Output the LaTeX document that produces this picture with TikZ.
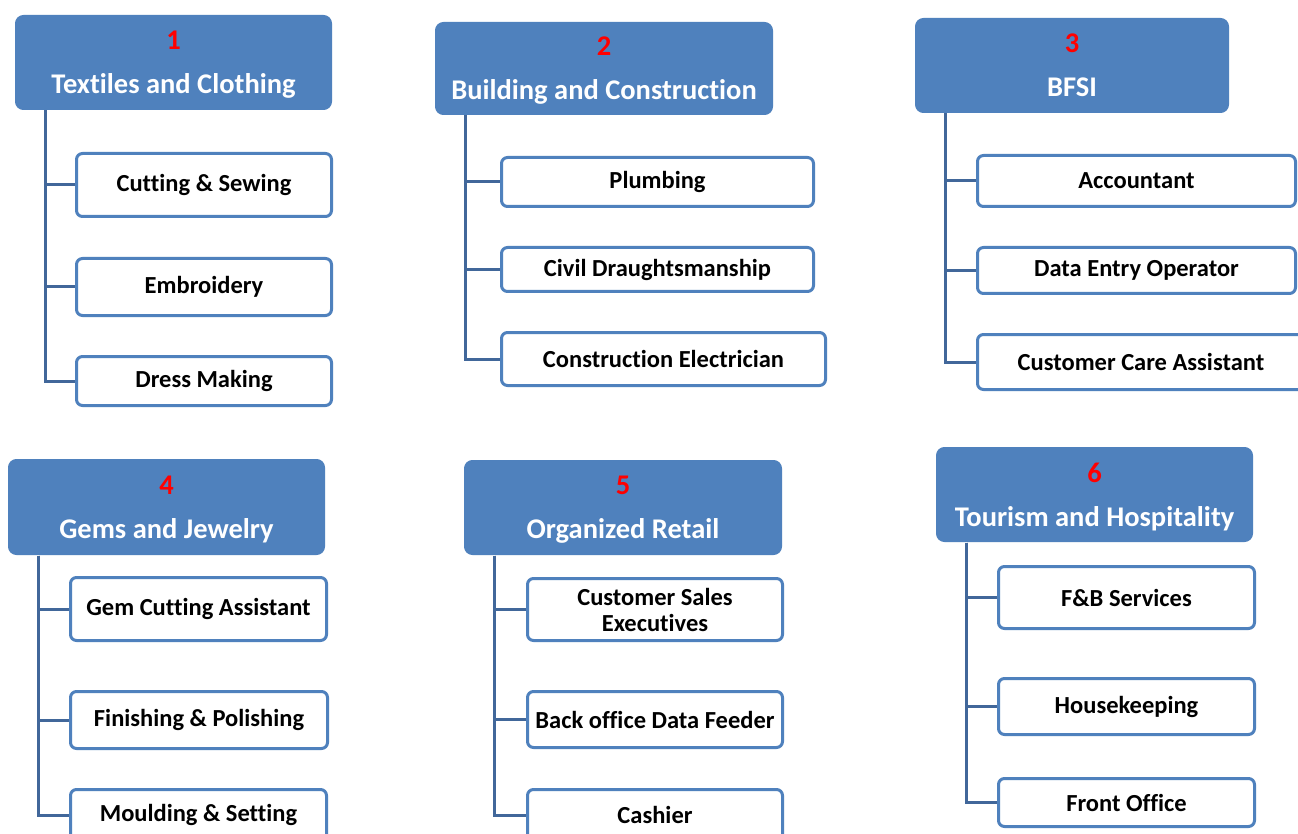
\documentclass[tikz,border=0pt]{standalone}
\usepackage{fontspec}
\setmainfont{Carlito}[Ligatures=NoCommon]
\definecolor{hblue}{HTML}{4F81BD}
\definecolor{lblue}{HTML}{41679A}
\definecolor{numred}{HTML}{FF0000}
\tikzset{
  head/.style={draw=hblue, fill=hblue, rounded corners=8pt, line width=1pt,
    text=white, align=center, inner sep=0pt,
    font=\bfseries\fontsize{28.5}{44}\selectfont},
  child/.style={draw=hblue, fill=white, rounded corners=6pt, line width=3pt,
    align=center, inner sep=0pt, text=black,
    font=\bfseries\fontsize{24.5}{26}\selectfont},
  conn/.style={draw=lblue, line width=3pt}
}
\newcommand\mkhead[7]{%
  \node[head, minimum width={#4-#2-1}, minimum height={#5-#3-1}] (#1)
    at ({(#2+#4)/2},{(#3+#5)/2}) {\textcolor{numred}{#6}\\\smash{#7}};}
\newcommand\mkchild[6]{%
  \node[child, minimum width={#4-#2-3}, minimum height={#5-#3-3}] (#1)
    at ({(#2+#4)/2},{(#3+#5)/2}) {#6};}
\begin{document}
\begin{tikzpicture}[x=1pt,y=-1pt]
  \useasboundingbox (0,0) rectangle (1298,834);
  \clip (0,0) rectangle (1298,834);
  \fill[white] (0,0) rectangle (1298,834);

  % group 1
  \mkhead{h1}{15}{15}{332}{110}{1}{Textiles and Clothing}
  \mkchild{c11}{75}{152}{333}{218}{Cutting \& Sewing}
  \mkchild{c12}{75}{257}{333}{317}{Embroidery}
  \mkchild{c13}{75}{355}{333}{407}{Dress Making}

  % group 2
  \mkhead{h2}{435}{22}{773}{115}{2}{Building and Construction}
  \mkchild{c21}{500}{156}{815}{208}{Plumbing}
  \mkchild{c22}{500}{246}{815}{293}{Civil Draughtsmanship}
  \mkchild{c23}{500}{331}{827}{387}{Construction Electrician}

  % group 3
  \mkhead{h3}{915}{18}{1229}{113}{3}{BFSI}
  \mkchild{c31}{976}{154}{1297}{208}{Accountant}
  \mkchild{c32}{976}{246}{1297}{295}{Data Entry Operator}
  \mkchild{c33}{976}{333}{1306}{391}{Customer Care Assistant}

  % group 4
  \mkhead{h4}{8}{459}{325}{555}{4}{Gems and Jewelry}
  \mkchild{c41}{69}{576}{328}{642}{Gem Cutting Assistant}
  \mkchild{c42}{69}{690}{329}{750}{Finishing \& Polishing}
  \mkchild{c43}{69}{788}{328}{842}{Moulding \& Setting}

  % group 5
  \mkhead{h5}{464}{460}{782}{555}{5}{Organized Retail}
  \mkchild{c51}{526}{577}{784}{642}{Customer Sales\\Executives}
  \mkchild{c52}{526}{690}{784}{749}{Back office Data Feeder}
  \mkchild{c53}{526}{788}{784}{842}{Cashier}

  % group 6
  \mkhead{h6}{936}{447}{1253}{542}{6}{Tourism and Hospitality}
  \mkchild{c61}{997}{565}{1256}{630}{F\&B Services}
  \mkchild{c62}{997}{677}{1256}{736}{Housekeeping}
  \mkchild{c63}{997}{777}{1256}{828}{Front Office}

  % connectors
  \foreach \g in {1,...,6}{
    \foreach \c in {1,2,3}{
      \draw[conn] ([xshift=30pt,yshift=-0.5pt]h\g.south west) |- (c\g\c.west);
    }
  }
\end{tikzpicture}
\end{document}
